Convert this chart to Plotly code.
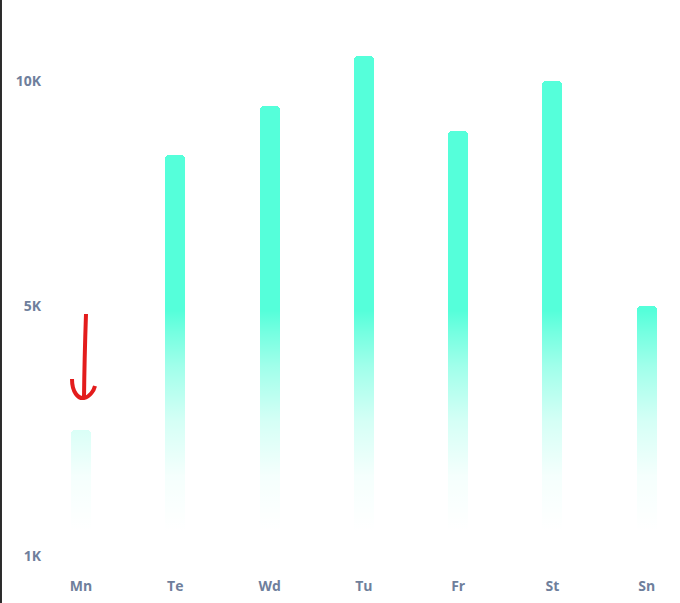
import base64
import plotly.graph_objects as go

# weekly totals
days = ["Mn", "Te", "Wd", "Tu", "Fr", "St", "Sn"]
values = [2250, 8350, 9450, 10550, 8900, 10000, 5000]

tick_vals = [-555, 5000, 10000]
tick_text = ["1K", "5K", "10K"]

TEAL = "#55ffda"
LABEL = "#6f7f9c"
FADE_TOP = 4900  # above this the bars are solid

# white veil that fades the lower half of the bars
svg = """<svg xmlns='http://www.w3.org/2000/svg' width='10' height='100' preserveAspectRatio='none'>
<defs><linearGradient id='g' x1='0' y1='0' x2='0' y2='1'>
<stop offset='0' stop-color='#fff' stop-opacity='0'/>
<stop offset='0.1' stop-color='#fff' stop-opacity='0.19'/>
<stop offset='0.25' stop-color='#fff' stop-opacity='0.44'/>
<stop offset='0.5' stop-color='#fff' stop-opacity='0.75'/>
<stop offset='0.75' stop-color='#fff' stop-opacity='0.94'/>
<stop offset='1' stop-color='#fff' stop-opacity='1'/>
</linearGradient></defs>
<rect width='10' height='100' fill='url(#g)'/></svg>"""
veil = "data:image/svg+xml;base64," + base64.b64encode(svg.encode()).decode()

fig = go.Figure()
fig.add_trace(go.Bar(
    x=days,
    y=values,
    width=0.212,
    marker=dict(color=TEAL, line=dict(width=0), cornerradius=4),
    hoverinfo="x+y",
))

fig.add_layout_image(dict(
    source=veil, xref="x", yref="y",
    x=-0.5, y=FADE_TOP, sizex=7, sizey=FADE_TOP,
    xanchor="left", yanchor="top", sizing="stretch", layer="above",
))

# hand-drawn red arrow pointing at Monday
fig.add_shape(
    type="path", xref="x", yref="y",
    path="M 0.053,4822 Q 0.036,3800 0.032,2978 "
         "M -0.0955,3378 C -0.0955,3089 -0.0319,2933 0.0318,2956 "
         "C 0.0954,2978 0.1378,3133 0.1485,3222",
    line=dict(color="#e31c1c", width=4),
)

# dark border line on the left edge
fig.add_shape(
    type="line", xref="paper", yref="paper",
    x0=-0.0643, x1=-0.0643, y0=-0.06, y1=1.0,
    line=dict(color="#2b2b2b", width=2),
)

fig.update_layout(
    width=680, height=603,
    margin=dict(l=42, r=0, t=0, b=27),
    plot_bgcolor="white", paper_bgcolor="white",
    showlegend=False,
    bargap=0,
    xaxis=dict(
        range=[-0.4137, 6.353], showgrid=False, zeroline=False, showline=False,
        ticks="", tickfont=dict(family="Open Sans", size=14, color=LABEL, weight=700),
    ),
    yaxis=dict(
        range=[-1000, 11800], showgrid=False, zeroline=False, showline=False,
        tickvals=tick_vals, ticktext=tick_text, ticks="",
        tickfont=dict(family="Open Sans", size=14, color=LABEL, weight=700),
    ),
)

fig.write_html("out.html", config={"displayModeBar": False},
               post_script="document.body.style.margin='0';")
